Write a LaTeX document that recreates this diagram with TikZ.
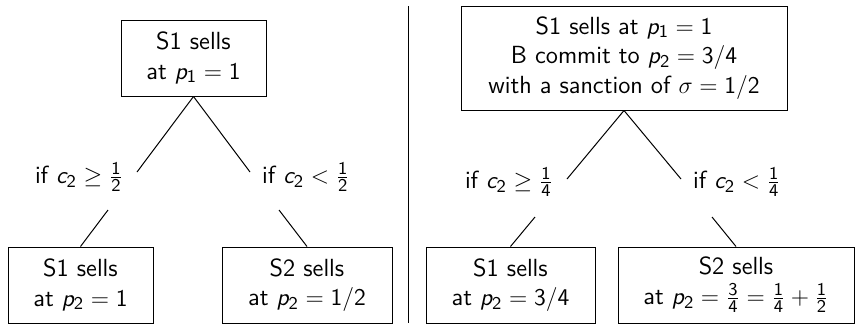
\documentclass[tikz,border=0pt]{standalone}
\DeclareSymbolFont{sfit}{OT1}{cmss}{m}{it}
\DeclareSymbolFont{sfup}{OT1}{cmss}{m}{n}
\DeclareMathSymbol{p}{\mathalpha}{sfit}{`p}
\DeclareMathSymbol{c}{\mathalpha}{sfit}{`c}
\DeclareMathSymbol{1}{\mathalpha}{sfup}{`1}
\DeclareMathSymbol{2}{\mathalpha}{sfup}{`2}
\DeclareMathSymbol{3}{\mathalpha}{sfup}{`3}
\DeclareMathSymbol{4}{\mathalpha}{sfup}{`4}
\DeclareMathSymbol{/}{\mathord}{sfup}{`/}
\begin{document}
\begin{tikzpicture}[x=0.5pt,y=-0.5pt,
  every node/.style={font=\fontsize{12.4}{14.8}\selectfont\sffamily},
  box/.style={draw,line width=0.5pt,align=center,inner sep=0pt},
  lbl/.style={inner sep=0pt},
  conn/.style={line width=0.5pt}]
\useasboundingbox (0,0) rectangle (855,328);
% divider
\coordinate (d1) at (408,6);
\coordinate (d2) at (408,323);
\draw[line width=0.5pt] (d1) -- (d2);
% left panel
\node[box,minimum width=72.5pt,minimum height=38pt] (t1) at (193.5,58) {S1 sells\\at $p_1=1$};
\node[lbl] (a1) at (79,177) {if $c_2\geq\frac12$};
\node[lbl] (b1) at (306,177) {if $c_2<\frac12$};
\node[box,minimum width=72.5pt,minimum height=38pt] (l1) at (80.5,285) {S1 sells\\at $p_2=1$};
\node[box,minimum width=85pt,minimum height=38pt] (r1) at (307,285) {S2 sells\\at $p_2=1/2$};
\coordinate (a1u) at (137,172);
\coordinate (b1u) at (250,172);
\coordinate (a1d) at (108,210);
\coordinate (b1d) at (279,210);
\draw[conn] (t1.south) -- (a1u);
\draw[conn] (t1.south) -- (b1u);
\draw[conn] (a1d) -- (l1.north);
\draw[conn] (b1d) -- (r1.north);
% right panel
\node[box,minimum width=163pt,minimum height=52pt] (t2) at (624,58) {S1 sells at $p_1=1$\\B commit to $p_2=3/4$\\with a sanction of $\sigma=1/2$};
\node[lbl] (a2) at (509,182) {if $c_2\geq\frac14$};
\node[lbl] (b2) at (737,182) {if $c_2<\frac14$};
\node[box,minimum width=84.5pt,minimum height=38pt] (l2) at (510.5,285) {S1 sells\\at $p_2=3/4$};
\node[box,minimum width=118pt,minimum height=38pt] (r2) at (736,285) {S2 sells\\at $p_2=\frac34=\frac14+\frac12$};
\coordinate (a2u) at (567,179);
\coordinate (b2u) at (681,179);
\coordinate (a2d) at (535,217);
\coordinate (b2d) at (712,217);
\draw[conn] (t2.south) -- (a2u);
\draw[conn] (t2.south) -- (b2u);
\draw[conn] (a2d) -- (l2.north);
\draw[conn] (b2d) -- (r2.north);
\end{tikzpicture}
\end{document}
